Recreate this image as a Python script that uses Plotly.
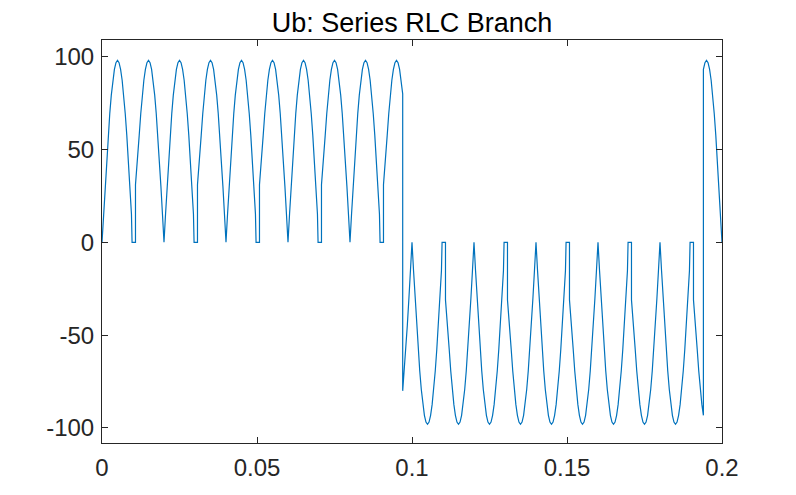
import plotly.graph_objects as go

title_text = "Ub: Series RLC Branch"
x_ticks = [0, 0.05, 0.1, 0.15, 0.2]
x_tick_labels = ["0", "0.05", "0.1", "0.15", "0.2"]
y_ticks = [-100, -50, 0, 50, 100]
y_tick_labels = ["-100", "-50", "0", "50", "100"]

# 20 ms period, first half-cycle: starts at a zero notch, is held at 0 near its end
first_half_t = [0.0000, 0.0005, 0.0010, 0.0015, 0.0020, 0.0025, 0.0030, 0.0035, 0.0040, 0.0045,
                0.0050, 0.0055, 0.0060, 0.0065, 0.0070, 0.0075, 0.0080, 0.0085, 0.0090, 0.0095,
                0.0097]
first_half_v = [0, 15.3, 30.3, 44.5, 57.6, 69.3, 79.3, 87.3, 93.2, 96.8,
                98.0, 96.8, 93.2, 87.3, 79.3, 69.3, 57.6, 44.5, 30.3, 15.3,
                0]
# second half-cycle: resumes with a step after the held-zero interval, ends in a sharp notch
second_half_t = [0.0108, 0.0108, 0.0115, 0.0120, 0.0125, 0.0130, 0.0135, 0.0140, 0.0145, 0.0150,
                 0.0155, 0.0160, 0.0165, 0.0170, 0.0175, 0.0180, 0.0185, 0.0190, 0.0195, 0.0200]
second_half_v = [0, 31, 44.5, 57.6, 69.3, 79.3, 87.3, 93.2, 96.8, 98.0,
                 96.8, 93.2, 87.3, 79.3, 69.3, 57.6, 44.5, 30.3, 15.3, 0]

period_starts = [0.00, 0.02, 0.04, 0.06, 0.08, 0.10, 0.12, 0.14, 0.16, 0.18]

# polarity reversals: time, magnitude at the switch, polarity after the switch
switch_t = [0.097, 0.194]
switch_mag = [80.0, 93.2]
switch_sign_after = [-1, 1]


def polarity(t):
    s = 1
    for st, sa in zip(switch_t, switch_sign_after):
        if t > st:
            s = sa
    return s


pts = []
for p in period_starts:
    for dt, v in list(zip(first_half_t, first_half_v)) + list(zip(second_half_t, second_half_v)):
        t = round(p + dt, 6)
        if any(abs(t - st) < 1e-9 for st in switch_t):
            continue
        pts.append((t, polarity(t) * v))
for st, m, sa in zip(switch_t, switch_mag, switch_sign_after):
    pts.append((st - 1e-9, -sa * m))
    pts.append((st, sa * m))

pts.sort(key=lambda q: q[0])
xs = [q[0] for q in pts]
ys = [q[1] for q in pts]

fig = go.Figure()
fig.add_trace(go.Scatter(x=xs, y=ys, mode="lines",
                         line=dict(color="#0072BD", width=1.2),
                         hoverinfo="skip"))

axis_common = dict(
    showgrid=False, zeroline=False, showline=True, linecolor="#262626", linewidth=1,
    mirror="allticks", ticks="inside", ticklen=6, tickwidth=1, tickcolor="#262626",
    tickfont=dict(size=24, color="#262626", family="Liberation Sans, Arial, sans-serif"),
)

fig.update_layout(
    width=796, height=495,
    margin=dict(l=102, r=74, t=40, b=52),
    paper_bgcolor="white", plot_bgcolor="white",
    showlegend=False,
    font=dict(family="Liberation Sans, Arial, sans-serif", color="#262626"),
    title=dict(text=title_text, x=0.5, xref="paper", xanchor="center",
               y=1 - 23 / 495, yref="container", yanchor="middle",
               font=dict(size=27, color="#000000")),
    xaxis=dict(range=[0, 0.2], tickvals=x_ticks, ticktext=x_tick_labels,
               ticklabelstandoff=3, **axis_common),
    yaxis=dict(range=[-108.1, 109], tickvals=y_ticks, ticktext=y_tick_labels,
               ticklabelstandoff=2, **axis_common),
)

fig.write_html("out.html", config={"displayModeBar": False},
               post_script="document.body.style.margin='0';")
